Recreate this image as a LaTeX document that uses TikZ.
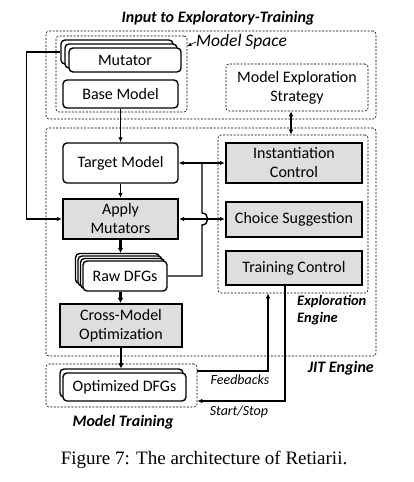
\documentclass[tikz,border=0pt]{standalone}
\usepackage{fontspec}
\setmainfont{Carlito}
\newfontfamily\capfont{Liberation Serif}
\usetikzlibrary{arrows.meta}
\begin{document}
\begin{tikzpicture}[x=1pt,y=-1pt,
  box/.style={draw,line width=1.4pt,rounded corners=4pt,fill=white,align=center,inner sep=0pt,font=\fontsize{16}{19}\selectfont},
  gbox/.style={draw,line width=2.2pt,fill=black!13,align=center,inner sep=0pt,font=\fontsize{16}{19}\selectfont},
  dbox/.style={draw,dash pattern=on 2pt off 1.5pt,line width=0.6pt,rounded corners=3pt,inner sep=0pt},
  ln/.style={line width=1.4pt},
  conn/.style={line width=1.4pt,-{Latex[length=5pt,width=4.5pt]}},
  dconn/.style={line width=1.4pt,{Latex[length=5pt,width=4.5pt]}-{Latex[length=5pt,width=4.5pt]}},
  tconn/.style={line width=2.6pt,-{Latex[length=5pt,width=6pt]}},
  lbl/.style={font=\fontsize{14}{17}\selectfont\itshape,inner sep=0pt},
  blbl/.style={font=\fontsize{16}{19}\selectfont\bfseries\itshape,inner sep=0pt},
]
\useasboundingbox (0,0) rectangle (413,482);
% containers
\node[dbox,minimum width=330pt,minimum height=88pt] (input) at (211,75) {};
\node[dbox,minimum width=131pt,minimum height=76pt] (mspace) at (121.5,74) {};
\node[dbox,minimum width=142pt,minimum height=47pt,align=center,font=\fontsize{16}{19}\selectfont] (mes) at (297,87.5) {Model Exploration\\Strategy};
\node[dbox,minimum width=330pt,minimum height=228pt] (jit) at (211,242) {};
\node[dbox,minimum width=150pt,minimum height=158pt] (ee) at (293,214) {};
\node[dbox,minimum width=151pt,minimum height=43pt] (mt) at (121.5,385.5) {};
% labels
\node[blbl] (ttl) at (218,18) {Input to Exploratory-Training};
\node[font=\fontsize{17.5}{20}\selectfont\itshape,inner sep=0pt,anchor=west] (mslbl) at (196,42) {Model Space};
\node[blbl,anchor=north west,align=left,font=\fontsize{14.5}{17}\selectfont\bfseries\itshape] (eelbl) at (297,295) {Exploration\\Engine};
\node[blbl,anchor=east] (jitlbl) at (374,368) {JIT Engine};
\node[blbl] (mtlbl) at (123,422) {Model Training};
\node[lbl] (fb) at (240,380) {Feedbacks};
\node[lbl] (ss) at (239,412) {Start/Stop};
\node[inner sep=0pt,font=\fontsize{19}{22}\capfont] (cap) at (204,460) {Figure 7: The architecture of Retiarii.};
% mutator stack
\node[box,minimum width=112pt,minimum height=24pt] (mut3) at (117,52) {};
\node[box,minimum width=112pt,minimum height=24pt] (mut2) at (121,56) {};
\node[box,minimum width=112pt,minimum height=24pt] (mut) at (125,60) {Mutator};
\node[box,minimum width=115pt,minimum height=28pt] (base) at (120.5,94) {Base Model};
% engine
\node[box,minimum width=115pt,minimum height=40pt] (target) at (120.5,163) {Target Model};
\node[gbox,minimum width=115pt,minimum height=40pt] (apply) at (120.5,219) {Apply\\Mutators};
\node[box,minimum width=84pt,minimum height=30pt] (raw4) at (117.5,268.5) {};
\node[box,minimum width=84pt,minimum height=30pt] (raw3) at (120,271) {};
\node[box,minimum width=84pt,minimum height=30pt] (raw2) at (122.5,273.5) {};
\node[box,minimum width=84pt,minimum height=30pt] (raw) at (125,276) {Raw DFGs};
\node[gbox,minimum width=122pt,minimum height=43pt] (cross) at (121,325.5) {Cross-Model\\Optimization};
\node[gbox,minimum width=136pt,minimum height=40pt] (inst) at (294,163) {Instantiation\\Control};
\node[gbox,minimum width=136pt,minimum height=35pt] (choice) at (294,219.5) {Choice Suggestion};
\node[gbox,minimum width=136pt,minimum height=34pt] (train) at (294,268) {Training Control};
\node[box,minimum width=123pt,minimum height=28pt] (opt2) at (121.5,383) {};
\node[box,minimum width=123pt,minimum height=28pt] (opt) at (124.5,387) {Optimized DFGs};
% connectors
\draw[line width=0.6pt,-{Latex[length=4pt,width=3.5pt]}] (mslbl.west) -- (mspace.east |- 0,46);
\draw[conn] (base.south) -- (base.south |- target.north);
\draw[conn] (target.south) -- (apply.north);
\draw[tconn] (apply.south) -- (apply.south |- raw4.north);
\draw[tconn] (raw.south -| apply.south) -- (apply.south |- cross.north);
\draw[tconn] (cross.south) -- (cross.south |- opt2.north);
\draw[conn] (mut3.west) -- ++(-34,0) |- (apply.west);
\draw[dconn] (target.east) -- (inst.west);
\draw[dconn] (apply.east) -- (apply.east -| choice.west);
\coordinate (j1) at (202,163);
\draw[ln] (j1) -- (202,213) .. controls (209.5,213) and (209.5,225) .. (202,225) |- (raw.east);
\draw[dconn] ([xshift=-6pt]mes.south) -- ([xshift=-6pt]mes.south |- ee.north);
\draw[conn] ([yshift=14.5pt]mt.east) -| ([xshift=-25pt]ee.south);
\draw[conn] ([xshift=-9pt]train.south) |- ([yshift=-15.5pt]mt.east);
\end{tikzpicture}
\end{document}
